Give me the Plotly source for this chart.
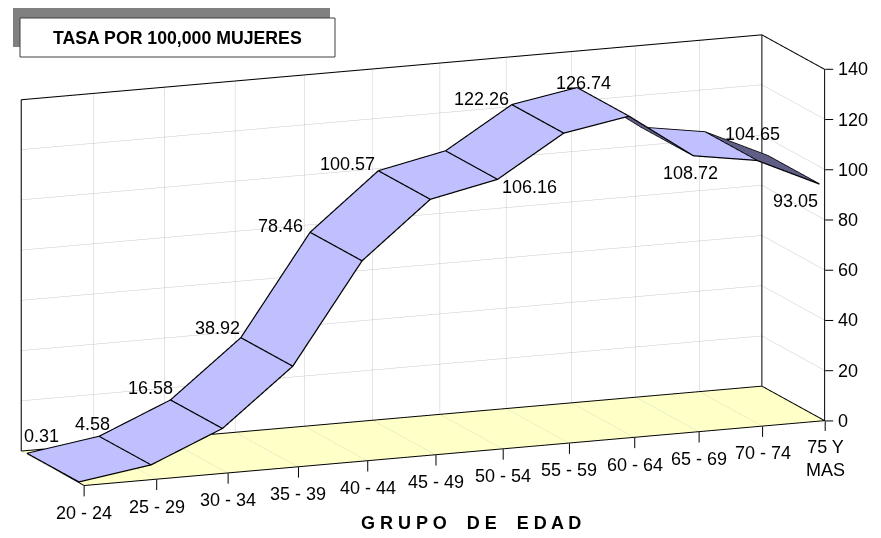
import numpy as np
import plotly.graph_objects as go

# ---------------- data ----------------
categories = ["20 - 24", "25 - 29", "30 - 34", "35 - 39", "40 - 44", "45 - 49",
              "50 - 54", "55 - 59", "60 - 64", "65 - 69", "70 - 74", "75 Y<br>MAS"]
tasa = [0.31, 4.58, 16.58, 38.92, 78.46, 100.57, 106.16, 122.26, 126.74, 108.72, 104.65, 93.05]
z_ticks = [0, 20, 40, 60, 80, 100, 120, 140]

# ---------------- view / style ----------------
W, H = 881, 538
AZIM, ELEV = 21.7702, 12.6757                 # camera direction (degrees)
LEN_PX = (799.1845, 171.0257, 360.9661)       # box edge lengths (px) for x, depth, z
BOX_CENTRE_PX = (422.9654, 260.1760)          # where the box centre lands on the page
XOFF = 62.269                                 # log-axis offset mimicking perspective foreshortening
PX_PER_UNIT = 269.4                           # plotly orthographic scale at EYE_DIST
EYE_DIST = 2.5
SHADE_DIST_PX = 2557.0                        # virtual viewer distance used for ribbon shading
Y0, Y1 = 0.09, 0.91                           # ribbon depth extent
LIGHT, DARK = "#C0C0FF", "#5E5E86"
FLOOR = "#FFFFC8"
GRID = "#C8C8C8"
# data-label placement (ribbon edge it hangs from, pixel nudge right, pixel nudge up)
label_place = [("back", 15, 17), ("back", -7, 12), ("back", -20, 12), ("back", -23, 10),
               ("back", -30, 6), ("back", -31, 7), ("front", 32, -8), ("back", -30, 6),
               ("back", 6, 5), ("front", -3, -17), ("front", -4, 26), ("front", -24, -17)]

el, az = np.radians(ELEV), np.radians(AZIM)
DIR = np.array([-np.sin(az) * np.cos(el), -np.cos(az) * np.cos(el), np.sin(el)])   # towards viewer
R = np.array([np.cos(az), -np.sin(az), 0.0])
U = np.array([np.sin(az) * np.sin(el), np.cos(az) * np.sin(el), np.cos(el)])
AX, AY, AZ = (L / PX_PER_UNIT for L in LEN_PX)
shift_right, shift_up = BOX_CENTRE_PX[0] - W / 2, H / 2 - BOX_CENTRE_PX[1]
CEN = (-shift_right / PX_PER_UNIT) * R + (-shift_up / PX_PER_UNIT) * U
EYE = CEN + EYE_DIST * DIR
SHADE_EYE = CEN + (SHADE_DIST_PX / PX_PER_UNIT) * DIR

# ---------------- geometry from data ----------------
n = len(tasa)
xpos = [i + XOFF for i in range(n)]
XLO, XHI = np.log10(xpos[0]), np.log10(xpos[-1])
ZMAX = z_ticks[-1]
xa, xb = xpos[0], xpos[-1]

def to_box(x, y, z):
    return np.array([((np.log10(x) - XLO) / (XHI - XLO) - 0.5) * AX, (y - 0.5) * AY, (z / ZMAX - 0.5) * AZ])

EPS = 0.006
def nudge(xl, yl, zl):
    """pull line vertices a hair toward the viewer (kept inside the axis ranges)"""
    ox, oy, oz = [], [], []
    for a, b, c in zip(xl, yl, zl):
        if a is None:
            ox.append(None); oy.append(None); oz.append(None); continue
        nx = 10 ** (np.log10(a) + EPS * DIR[0] / AX * (XHI - XLO))
        ox.append(min(max(nx, xa), xb))
        oy.append(min(max(b + EPS * DIR[1] / AY, 0.0), 1.0))
        oz.append(min(max(c + EPS * DIR[2] / AZ * ZMAX, 0.0), ZMAX))
    return ox, oy, oz

mx, my, mz, fc = [], [], [], []
for i in range(n):
    mx += [xpos[i], xpos[i]]; my += [Y0, Y1]; mz += [tasa[i], tasa[i]]
I, J_, K = [], [], []
for i in range(n - 1):
    f0, b0, f1, b1 = 2 * i, 2 * i + 1, 2 * i + 2, 2 * i + 3
    a0 = to_box(xpos[i], 0.5, tasa[i]); a1 = to_box(xpos[i + 1], 0.5, tasa[i + 1])
    nrm = np.array([-(a1[2] - a0[2]), 0, a1[0] - a0[0]])
    col = LIGHT if (SHADE_EYE - (a0 + a1) / 2) @ nrm > 0 else DARK
    I += [f0, f0]; J_ += [b0, b1]; K += [b1, f1]
    fc += [col, col]

ribbon = go.Mesh3d(x=mx, y=my, z=mz, i=I, j=J_, k=K, facecolor=fc, flatshading=True,
                   lighting=dict(ambient=1, diffuse=0, specular=0, roughness=1, fresnel=0),
                   hoverinfo="skip", showscale=False)

ex_, ey_, ez_ = [], [], []
for yy in (Y0, Y1):
    ex_ += xpos + [None]; ey_ += [yy] * n + [None]; ez_ += tasa + [None]
for i in range(n):
    ex_ += [xpos[i], xpos[i], None]; ey_ += [Y0, Y1, None]; ez_ += [tasa[i], tasa[i], None]
sx, sy, sz = nudge(ex_, ey_, ez_)
edges = go.Scatter3d(x=sx, y=sy, z=sz, mode="lines", line=dict(color="black", width=2.5),
                     hoverinfo="skip", connectgaps=False)

fx = [xa, xb, xb, xa, xa, None, xa, xa, xb, xb, None, xb, xb, xb, None]
fy = [0, 0, 1, 1, 0, None, 1, 1, 1, 1, None, 1, 0, 0, None]
fz = [0, 0, 0, 0, 0, None, 0, ZMAX, ZMAX, 0, None, ZMAX, ZMAX, 0, None]
sx, sy, sz = nudge(fx, fy, fz)
frame = go.Scatter3d(x=sx, y=sy, z=sz, mode="lines", line=dict(color="black", width=2),
                     hoverinfo="skip", connectgaps=False)

# ---------------- text ----------------
FONT = "Arial, Liberation Sans, sans-serif"
TXT = dict(size=18, color="black", family=FONT)
lx = [float(np.log10(v)) for v in xpos]   # scene annotations on a log axis take log10 positions
ann = []
for i, v in enumerate(tasa):
    edge, dx, dy = label_place[i]
    ann.append(dict(x=lx[i], y=Y1 if edge == "back" else Y0, z=v, text=f"{v:.2f}", showarrow=False,
                    xanchor="center", yanchor="middle", xshift=dx, yshift=dy, font=TXT))
for i, c in enumerate(categories):
    nl = c.count("<br>") + 1
    ann.append(dict(x=lx[i], y=0, z=0, text=c, showarrow=True, arrowhead=0, arrowwidth=1,
                    arrowcolor="black", ax=0, ay=27 + 11 * (nl - 1), startstandoff=5, font=TXT))
for t in z_ticks:
    ann.append(dict(x=lx[-1], y=0, z=t, text=str(t), showarrow=True, arrowhead=0, arrowwidth=1,
                    arrowcolor="black", ax=11, ay=0, xanchor="left", startstandoff=3, font=TXT))

axis_common = dict(showticklabels=False, title="", zeroline=False, showline=False, ticks="",
                   showspikes=False, gridcolor=GRID, gridwidth=1)
fig = go.Figure([ribbon, edges, frame])
fig.update_layout(
    width=W, height=H, margin=dict(l=0, r=0, t=0, b=0), paper_bgcolor="white",
    showlegend=False, hovermode=False,
    scene=dict(
        domain=dict(x=[0, 1], y=[0, 1]),
        xaxis=dict(type="log", range=[XLO, XHI], tickvals=xpos, showgrid=True, showbackground=True,
                   backgroundcolor="white", **axis_common),
        yaxis=dict(range=[0, 1], showgrid=False, showbackground=True, backgroundcolor="white",
                   **axis_common),
        zaxis=dict(range=[0, ZMAX], tickvals=z_ticks, showgrid=True, showbackground=True,
                   backgroundcolor=FLOOR, **axis_common),
        aspectmode="manual", aspectratio=dict(x=AX, y=AY, z=AZ),
        camera=dict(eye=dict(x=EYE[0], y=EYE[1], z=EYE[2]),
                    center=dict(x=CEN[0], y=CEN[1], z=CEN[2]),
                    up=dict(x=0, y=0, z=1), projection=dict(type="orthographic")),
        dragmode=False, annotations=ann,
    ),
    shapes=[
        dict(type="rect", xref="paper", yref="paper", x0=13 / W, x1=330 / W, y0=1 - 47 / H, y1=1 - 8 / H,
             fillcolor="#808080", line=dict(width=0), layer="above"),
        dict(type="rect", xref="paper", yref="paper", x0=20 / W, x1=335 / W, y0=1 - 57 / H, y1=1 - 18 / H,
             fillcolor="white", line=dict(color="#404040", width=1), layer="above"),
    ],
    annotations=[
        dict(x=177 / W, y=1 - 37.5 / H, xref="paper", yref="paper", showarrow=False,
             xanchor="center", yanchor="middle",
             text="<b>TASA POR 100,000 MUJERES</b>", font=dict(size=17.7, color="black", family=FONT)),
        dict(x=471 / W, y=1 - 523 / H, xref="paper", yref="paper", showarrow=False,
             xanchor="center", yanchor="middle",
             text="<b>G R U P O" + "\u00a0" * 4 + "D E" + "\u00a0" * 4 + "E D A D</b>",
             font=dict(size=18, color="black", family=FONT)),
    ],
)
fig.write_html("out.html", config={"displayModeBar": False},
               post_script="document.body.style.margin='0';document.body.style.overflow='hidden';")
